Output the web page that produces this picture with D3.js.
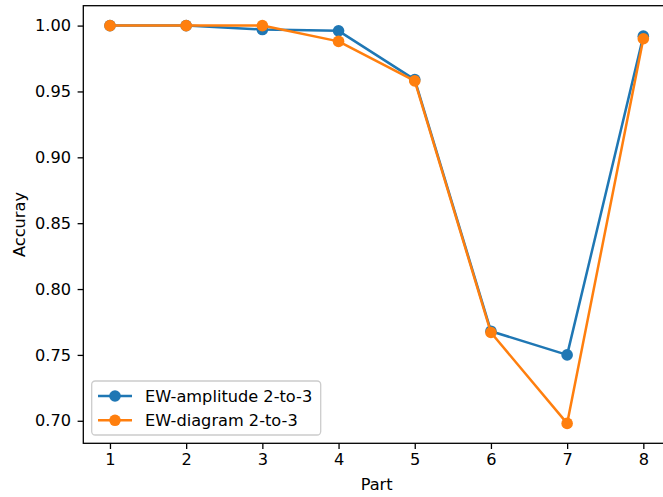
<!DOCTYPE html>
<html>
<head>
<meta charset="utf-8">
<script src="https://cdn.jsdelivr.net/npm/d3@7"></script>
<style>
  html, body { margin: 0; padding: 0; background: #fff; }
  svg { display: block; font-family: "DejaVu Sans", sans-serif; }
</style>
</head>
<body>
<svg id="chart" width="663" height="497"></svg>
<script>
// data
const parts = [1, 2, 3, 4, 5, 6, 7, 8];
const amplitude = [1.000, 1.000, 0.997, 0.996, 0.959, 0.768, 0.750, 0.992];
const diagram = [1.000, 1.000, 1.000, 0.988, 0.958, 0.767, 0.698, 0.990];
const yTicks = [0.70, 0.75, 0.80, 0.85, 0.90, 0.95, 1.00];
const seriesNames = ["EW-amplitude 2-to-3", "EW-diagram 2-to-3"];
const colors = ["#1f77b4", "#ff7f0e"];

const margin = {left: 83.3, top: 5.7, right: 670, bottom: 443.3};
const svg = d3.select("#chart");

// matplotlib style 5% padding on both axes
const xMin = d3.min(parts), xMax = d3.max(parts);
const xPad = (xMax - xMin) * 0.05;
const allY = amplitude.concat(diagram);
const yMin = d3.min(allY), yMax = d3.max(allY);
const yPad = (yMax - yMin) * 0.05;

const x = d3.scaleLinear().domain([xMin - xPad, xMax + xPad]).range([margin.left, margin.right]);
const y = d3.scaleLinear().domain([yMin - yPad, yMax + yPad]).range([margin.bottom, margin.top]);

const fontSize = 16.2;

// x axis
const xAxis = d3.axisBottom(x).tickValues(parts).tickSize(5.7).tickPadding(5).tickFormat(d3.format("d"));
const gx = svg.append("g").attr("transform", `translate(0,${margin.bottom})`).call(xAxis);
gx.select(".domain").remove();
gx.selectAll("line").attr("stroke", "#000").attr("stroke-width", 1.3);
gx.selectAll("text").attr("font-size", fontSize).attr("fill", "#000").attr("font-family", "DejaVu Sans");

// y axis
const yAxis = d3.axisLeft(y).tickValues(yTicks).tickSize(5.7).tickPadding(6.5).tickFormat(d3.format(".2f"));
const gy = svg.append("g").attr("transform", `translate(${margin.left},0)`).call(yAxis);
gy.select(".domain").remove();
gy.selectAll("line").attr("stroke", "#000").attr("stroke-width", 1.3);
gy.selectAll("text").attr("font-size", fontSize).attr("fill", "#000").attr("font-family", "DejaVu Sans");

// axis labels
svg.append("text")
  .attr("x", (margin.left + margin.right) / 2).attr("y", 490)
  .attr("text-anchor", "middle").attr("font-size", fontSize)
  .text("Part");
svg.append("text")
  .attr("transform", `translate(25,${(margin.top + margin.bottom) / 2}) rotate(-90)`)
  .attr("text-anchor", "middle").attr("font-size", fontSize)
  .text("Accuray");

// series
const series = [amplitude, diagram];
const line = d3.line().x((d, i) => x(parts[i])).y(d => y(d));
series.forEach((vals, k) => {
  const g = svg.append("g");
  g.append("path")
    .datum(vals)
    .attr("d", line)
    .attr("fill", "none")
    .attr("stroke", colors[k])
    .attr("stroke-width", 2.5)
    .attr("stroke-linejoin", "round")
    .attr("stroke-linecap", "square");
  g.selectAll("circle")
    .data(vals)
    .join("circle")
    .attr("cx", (d, i) => x(parts[i]))
    .attr("cy", d => y(d))
    .attr("r", 5.8)
    .attr("fill", colors[k]);
});

// spines
svg.append("rect")
  .attr("x", margin.left).attr("y", margin.top)
  .attr("width", margin.right - margin.left).attr("height", margin.bottom - margin.top)
  .attr("fill", "none").attr("stroke", "#000").attr("stroke-width", 1.3);

// legend
const legend = svg.append("g");
legend.append("rect")
  .attr("x", 91.7).attr("y", 381).attr("width", 229).attr("height", 54)
  .attr("rx", 3.5).attr("fill", "#fff").attr("fill-opacity", 0.8)
  .attr("stroke", "#cccccc").attr("stroke-width", 1.3);
seriesNames.forEach((name, k) => {
  const cy = 396 + k * 24.3;
  legend.append("line")
    .attr("x1", 98).attr("x2", 132).attr("y1", cy).attr("y2", cy)
    .attr("stroke", colors[k]).attr("stroke-width", 2.5);
  legend.append("circle").attr("cx", 115).attr("cy", cy).attr("r", 5.8).attr("fill", colors[k]);
  legend.append("text")
    .attr("x", 145).attr("y", cy).attr("dy", "0.36em")
    .attr("font-size", fontSize).text(name);
});
</script>
</body>
</html>
